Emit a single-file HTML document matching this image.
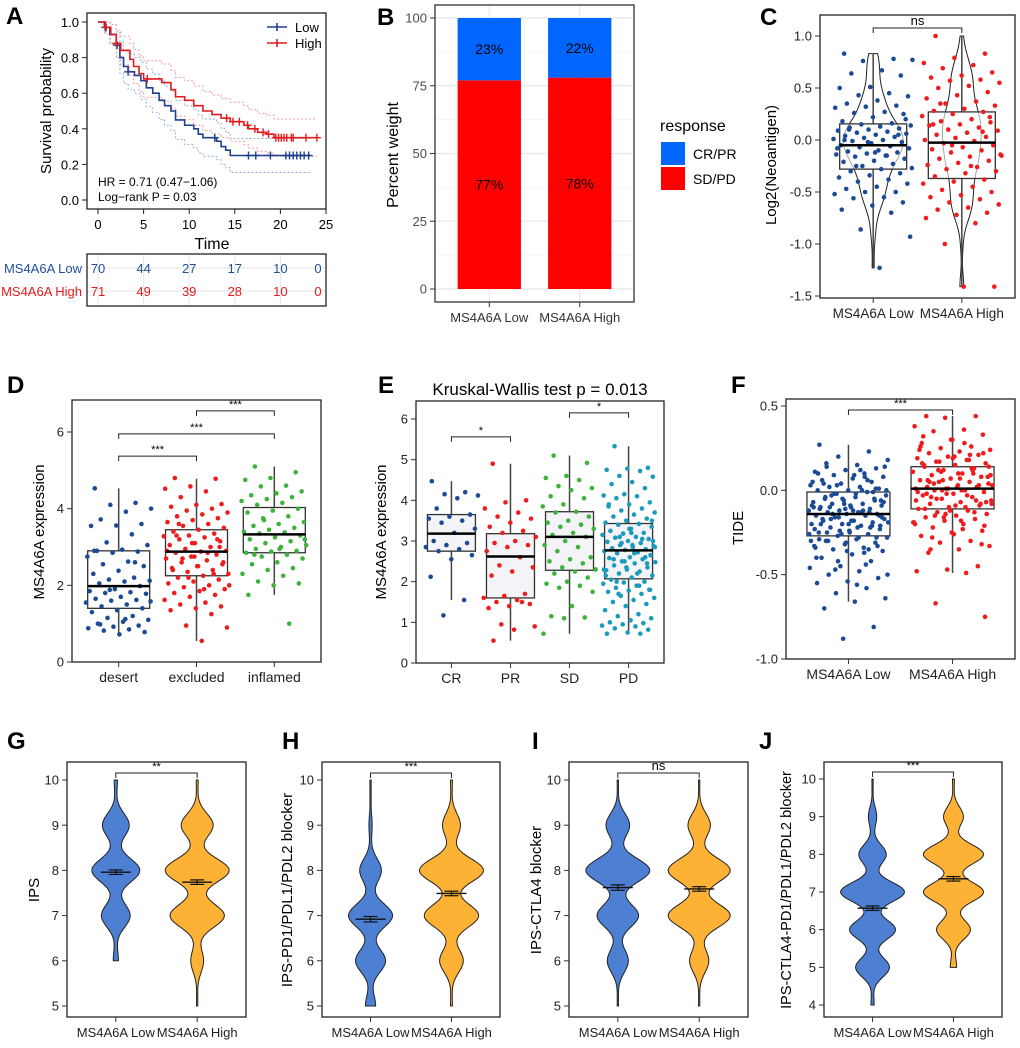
<!DOCTYPE html>
<html><head><meta charset="utf-8">
<style>
body{margin:0;background:#fff}
svg{display:block;font-family:"Liberation Sans",Arial,sans-serif}
</style></head>
<body>
<svg id="fig" width="1020" height="1048" viewBox="0 0 1020 1048"></svg>
<script>
// ---------------- DATA ----------------
const kmLowT = [0.7,1.3,2.0,2.4,2.8,3.3,4.0,4.7,5.3,6.0,6.7,7.3,8.0,8.5,9.5,10.5,11.0,11.5,13.0,13.5,14.0,14.5];
const kmLowS = [0.97,0.93,0.87,0.80,0.75,0.72,0.70,0.67,0.63,0.60,0.56,0.53,0.50,0.45,0.42,0.40,0.37,0.35,0.33,0.30,0.28,0.25];
const kmLowEnd = 23.3;
const kmHighT = [0.8,1.4,2.0,2.5,3.5,3.9,4.5,5.0,7.0,8.0,8.5,9.5,10.5,11.5,12.5,13.5,14.5,16.0,16.5,17.5,18.5,19.3];
const kmHighS = [0.97,0.93,0.88,0.84,0.79,0.75,0.71,0.68,0.66,0.62,0.58,0.56,0.53,0.50,0.48,0.46,0.44,0.42,0.40,0.38,0.37,0.35];
const kmHighEnd = 24;
const censLow = [0.8,2.1,3.3,12.8,16.5,17.3,18.9,20.6,21.0,21.4,21.8,22.2,22.6,23.1];
const censHigh = [0.9,2.0,5.4,14.1,14.8,15.5,16.4,17.2,18.1,18.7,19.5,19.8,20.1,20.4,20.7,21.2,21.4,22.8,24.0];
const riskTimes = [0,5,10,15,20,25];
const riskLow = [70,44,27,17,10,0];
const riskHigh = [71,49,39,28,10,0];
const aTicksX = [0,5,10,15,20,25];
const aTicksY = [0,0.2,0.4,0.6,0.8,1.0];
const aTickLabY = ['0.0','0.2','0.4','0.6','0.8','1.0'];

const bCats = ['MS4A6A Low','MS4A6A High'];
const bCRPR = [23,22];
const bSDPD = [77,78];
const bTicks = [0,25,50,75,100];

const cCats = ['MS4A6A Low','MS4A6A High'];
const cLow = [0.83,0.78,0.76,0.77,0.67,0.64,0.62,0.51,0.5,0.45,0.43,0.42,0.38,0.35,0.33,0.32,0.31,0.27,0.26,0.25,0.22,0.18,0.16,0.15,0.14,0.13,0.12,0.11,0.1,0.09,0.08,0.07,0.06,0.05,0.04,0.03,0.02,0.01,0,-0.01,-0.02,-0.03,-0.05,-0.06,-0.07,-0.08,-0.1,-0.11,-0.12,-0.13,-0.14,-0.15,-0.16,-0.18,-0.2,-0.21,-0.23,-0.25,-0.27,-0.28,-0.3,-0.32,-0.34,-0.36,-0.38,-0.4,-0.42,-0.45,-0.47,-0.5,-0.5,-0.52,-0.55,-0.56,-0.6,-0.63,-0.67,-0.7,-0.86,-0.93,-1.23,0.1,0.05,-0.02,-0.08,-0.15,-0.25,0.2,-0.12,0.0];
const cHigh = [1.0,0.83,0.79,0.74,0.72,0.69,0.65,0.62,0.6,0.58,0.57,0.55,0.52,0.5,0.46,0.43,0.4,0.37,0.35,0.33,0.3,0.28,0.27,0.25,0.23,0.2,0.18,0.17,0.15,0.14,0.12,0.1,0.09,0.07,0.05,0.03,0.02,0,-0.01,-0.03,-0.05,-0.07,-0.09,-0.1,-0.12,-0.14,-0.16,-0.18,-0.2,-0.22,-0.24,-0.26,-0.28,-0.3,-0.32,-0.35,-0.38,-0.4,-0.42,-0.45,-0.48,-0.5,-0.53,-0.55,-0.57,-0.6,-0.62,-0.65,-0.67,-0.7,-0.72,-0.75,-0.8,-1.0,-1.41,-1.41,0.15,0.08,-0.05,-0.15,-0.25,0.35,0.22];
const cStatLow = [-1.23,-0.28,-0.05,0.155,0.83];
const cStatHigh = [-1.41,-0.37,-0.025,0.27,1.0];
const cTicks = [-1.5,-1.0,-0.5,0.0,0.5,1.0];
const cTickLab = ['-1.5','-1.0','-0.5','0.0','0.5','1.0'];

const dCats = ['desert','excluded','inflamed'];
const dDesert = [4.53,4.15,4.1,4.0,3.92,3.72,3.6,3.56,3.55,3.33,3.12,3.05,2.93,2.9,2.88,2.85,2.75,2.62,2.55,2.5,2.38,2.3,2.2,2.15,2.12,2.1,2.05,1.98,1.9,1.85,1.82,1.8,1.78,1.7,1.65,1.62,1.6,1.55,1.5,1.45,1.4,1.35,1.3,1.2,1.15,1.1,1.05,1.0,0.95,0.92,0.88,0.85,0.82,0.78,0.72,2.9,2.6,1.88,1.58,1.12,0.98];
const dExcluded = [4.8,4.78,4.58,4.52,4.45,4.3,4.12,4.1,4.05,4.0,3.95,3.9,3.85,3.8,3.75,3.7,3.65,3.6,3.55,3.5,3.45,3.4,3.35,3.3,3.28,3.25,3.2,3.15,3.1,3.05,3.0,2.95,2.9,2.88,2.85,2.8,2.75,2.7,2.65,2.6,2.55,2.5,2.45,2.4,2.35,2.3,2.25,2.2,2.15,2.1,2.05,2.0,1.95,1.9,1.85,1.8,1.75,1.7,1.62,1.55,1.5,1.45,1.4,1.35,1.25,0.95,0.9,0.55,3.3,3.2,3.1,2.9,2.85,2.7,2.6,2.5,2.4,2.3,2.2,2.0,1.9,3.6,3.0,2.75];
const dInflamed = [5.1,4.95,4.8,4.75,4.6,4.58,4.45,4.4,4.35,4.3,4.25,4.2,4.15,4.1,4.0,3.95,3.9,3.8,3.75,3.65,3.6,3.55,3.5,3.45,3.4,3.38,3.35,3.3,3.25,3.2,3.15,3.1,3.05,3.0,2.95,2.9,2.88,2.85,2.8,2.75,2.7,2.6,2.55,2.45,2.4,2.3,2.25,2.1,2.05,2.0,1.75,1.0,3.7,3.2,2.95,2.8];
const dStats = [[0.72,1.4,1.98,2.9,4.53],[0.55,2.25,2.88,3.45,4.78],[1.75,2.85,3.33,4.03,5.1]];
const dTicks = [0,2,4,6];

const eCats = ['CR','PR','SD','PD'];
const eCR = [4.47,4.2,4.15,4.12,4.05,3.8,3.65,3.6,3.55,3.5,3.45,3.3,3.2,3.0,2.95,2.9,2.85,2.8,2.75,2.65,2.55,2.12,1.55,1.17];
const ePR = [4.9,4.0,3.95,3.8,3.7,3.6,3.55,3.45,3.35,3.25,3.2,3.1,3.0,2.95,2.9,2.85,2.75,2.6,2.4,2.35,2.25,2.15,1.7,1.65,1.6,1.55,1.5,1.45,1.4,1.35,1.5,0.95,0.9,0.82,0.55];
const eSD = [5.1,4.92,4.6,4.55,4.5,4.35,4.3,4.25,4.1,4.05,3.9,3.85,3.72,3.7,3.6,3.5,3.45,3.4,3.35,3.3,3.2,3.15,3.1,3.0,2.9,2.85,2.75,2.6,2.55,2.5,2.45,2.35,2.3,2.25,2.2,2.1,2.0,1.95,1.9,1.85,1.75,1.4,1.15,1.12,1.1,0.72];
const ePD = [5.33,4.8,4.78,4.75,4.72,4.6,4.58,4.45,4.4,4.3,4.15,4.12,4.1,4.05,3.95,3.9,3.85,3.8,3.75,3.7,3.65,3.6,3.55,3.5,3.45,3.42,3.4,3.35,3.3,3.25,3.2,3.18,3.15,3.1,3.08,3.05,3.0,2.98,2.95,2.9,2.88,2.85,2.82,2.8,2.78,2.75,2.72,2.7,2.65,2.6,2.58,2.55,2.5,2.48,2.45,2.4,2.35,2.3,2.28,2.25,2.2,2.15,2.1,2.05,2.0,1.98,1.95,1.9,1.85,1.8,1.78,1.75,1.7,1.65,1.6,1.55,1.5,1.45,1.4,1.3,1.2,1.15,1.1,1.05,1.0,0.98,0.95,0.92,0.9,0.85,0.82,0.75,0.72,0.72,3.1,3.0,2.9,2.8,2.6,2.5,2.3,2.2,2.0,1.8,3.3,3.9,3.05,2.95,2.85,2.7,2.55,2.45,2.35,2.15,1.9,1.7,3.5,3.2];
const eStats = [[1.55,2.75,3.18,3.65,4.47],[0.55,1.6,2.62,3.18,4.9],[0.72,2.28,3.1,3.72,5.1],[0.72,2.07,2.77,3.43,5.33]];
const eTicks = [0,1,2,3,4,5,6];

const fCats = ['MS4A6A Low','MS4A6A High'];
const fLow = [0.27,0.23,0.2,0.18,0.15,0.14,0.13,0.12,0.11,0.1,0.09,0.08,0.07,0.06,0.05,0.04,0.03,0.02,0.02,0.01,0,0,-0.01,-0.02,-0.03,-0.04,-0.05,-0.05,-0.06,-0.07,-0.08,-0.08,-0.09,-0.1,-0.1,-0.11,-0.12,-0.12,-0.13,-0.13,-0.14,-0.14,-0.15,-0.15,-0.16,-0.17,-0.18,-0.18,-0.19,-0.2,-0.2,-0.21,-0.22,-0.23,-0.24,-0.25,-0.26,-0.27,-0.28,-0.29,-0.3,-0.31,-0.32,-0.33,-0.34,-0.35,-0.36,-0.38,-0.4,-0.42,-0.45,-0.46,-0.48,-0.5,-0.52,-0.54,-0.55,-0.58,-0.61,-0.64,-0.66,-0.7,-0.81,-0.88,0.05,0.0,-0.03,-0.06,-0.09,-0.11,-0.13,-0.16,-0.19,-0.22,-0.25,-0.28,-0.31,-0.34,0.08,-0.02,-0.07,-0.12,-0.17,-0.21,-0.26,-0.3,0.12,-0.1,-0.15,-0.2,0.1,0.06,0.03,0.0,-0.02,-0.04,-0.06,-0.08,-0.1,-0.12,-0.14,-0.16,-0.18,-0.2,-0.22,-0.24,-0.26,-0.28,-0.3,-0.33,-0.36,-0.4,-0.44,-0.47,0.14,0.09,0.04,-0.01,-0.05,-0.09,-0.13,-0.17,-0.21,-0.25,-0.29,-0.35,-0.42,-0.5,-0.56,0.16,0.01,-0.11,-0.23,-0.37];
const fHigh = [0.44,0.44,0.43,0.38,0.36,0.35,0.33,0.3,0.28,0.26,0.25,0.24,0.23,0.22,0.21,0.2,0.19,0.18,0.17,0.16,0.15,0.14,0.13,0.12,0.11,0.1,0.09,0.08,0.07,0.06,0.05,0.05,0.04,0.03,0.02,0.02,0.01,0.01,0,0,-0.01,-0.02,-0.03,-0.04,-0.05,-0.06,-0.07,-0.08,-0.09,-0.1,-0.11,-0.12,-0.13,-0.14,-0.15,-0.16,-0.17,-0.18,-0.19,-0.2,-0.22,-0.24,-0.25,-0.27,-0.3,-0.31,-0.33,-0.35,-0.37,-0.45,-0.47,-0.48,-0.49,-0.67,-0.75,0.2,0.15,0.1,0.06,0.03,0.0,-0.04,-0.08,-0.12,0.24,0.18,0.12,0.08,0.02,-0.02,-0.06,-0.14,-0.2,0.28,0.04,0.22,0.19,0.16,0.13,0.11,0.09,0.07,0.05,0.03,0.01,-0.01,-0.03,-0.05,-0.07,-0.09,-0.11,-0.13,-0.16,-0.19,-0.23,-0.28,-0.32,0.3,0.26,0.21,0.17,0.14,0.1,0.06,0.02,-0.02,-0.06,-0.1,-0.15,-0.21,-0.26,0.32,0.12,0.0,-0.08,-0.18,-0.35];
const fStats = [[-0.66,-0.27,-0.14,-0.01,0.27],[-0.49,-0.11,0.01,0.14,0.44]];
const fTicks = [-1.0,-0.5,0.0,0.5];
const fTickLab = ['-1.0','-0.5','0.0','0.5'];

const ipsLevels = [4,5,6,7,8,9,10];
const gLow  = [0,0,0.08,0.45,0.75,0.42,0.05];
const gHigh = [0,0.02,0.2,0.85,1.0,0.5,0.03];
const hLow  = [0,0.16,0.47,0.69,0.34,0.05,0.02];
const hHigh = [0,0.03,0.37,0.85,1.0,0.28,0.03];
const iLow  = [0,0.02,0.33,0.65,1.0,0.37,0.02];
const iHigh = [0,0.02,0.3,0.97,0.97,0.35,0.02];
const jLow  = [0.05,0.53,0.72,1.0,0.43,0.13,0.02];
const jHigh = [0,0.1,0.53,0.94,0.94,0.31,0.03];
const vioMeans = {g:[7.96,7.74], h:[6.92,7.49], i:[7.62,7.59], j:[6.57,7.35]};
const vioSE = {g:[0.05,0.05], h:[0.06,0.05], i:[0.06,0.05], j:[0.06,0.06]};
const vioCats = ['MS4A6A Low','MS4A6A High'];

// ---------------- DRAWING ----------------
const NS = 'http://www.w3.org/2000/svg';
const svg = document.getElementById('fig');
function mk(tag, attrs, name, parent) {
  const e = document.createElementNS(NS, tag);
  for (const k in attrs) e.setAttribute(k, attrs[k]);
  
  
  (parent || svg).appendChild(e);
  return e;
}
function tx(x, y, s, size, name, opt) {
  opt = opt || {};
  const a = {x: x, y: y, 'font-size': size, 'text-anchor': opt.anchor || 'middle', fill: opt.fill || '#000'};
  if (opt.weight) a['font-weight'] = opt.weight;
  if (opt.rot) a.transform = 'rotate(-90 ' + x + ' ' + y + ')';
  const e = mk('text', a, name, opt.parent);
  e.textContent = s;
  return e;
}
function ln(x1, y1, x2, y2, stroke, w, name, extra) {
  const a = {x1: x1, y1: y1, x2: x2, y2: y2, stroke: stroke, 'stroke-width': w};
  if (extra) Object.assign(a, extra);
  return mk('line', a, name);
}
function lin(d0, d1, r0, r1) { return v => r0 + (v - d0) * (r1 - r0) / (d1 - d0); }
function jit(i, g, w) { const f = ((i + g * 13) * 0.6180339887 + 0.137) % 1; return (f - 0.5) * w; }
function catX(x0, x1, n) { const step = (x1 - x0) / (n + 0.2); return i => x0 + step * (0.6 + i); }
function letter(x, y, s) { tx(x, y, s, 24, 'panel-label-' + s.toLowerCase(), {anchor: 'start', weight: 'bold'}); }
function frame(x0, y0, x1, y1, name, stroke) {
  mk('rect', {x: x0, y: y0, width: x1 - x0, height: y1 - y0, fill: 'none', stroke: stroke || '#222', 'stroke-width': 1.3}, name);
}
function yAxis(ys, ticks, labels, xl, size, pname, fill) {
  ticks.forEach((t, i) => {
    ln(xl - 5, ys(t), xl, ys(t), '#333', 1, pname + '-y-tick');
    tx(xl - 8, ys(t) + size * 0.35, labels ? labels[i] : String(t), size, pname + '-y-tick-label', {anchor: 'end', fill: fill || '#222'});
  });
}
function xAxis(xc, cats, yb, size, pname, fill) {
  cats.forEach((c, i) => {
    ln(xc(i), yb, xc(i), yb + 5, '#333', 1, pname + '-x-tick');
    tx(xc(i), yb + 20, c, size, pname + '-x-tick-label', {fill: fill || '#222'});
  });
}
function bracket(xa, xb, y, label, name) {
  mk('path', {d: 'M' + xa + ' ' + (y + 5) + 'V' + y + 'H' + xb + 'V' + (y + 5), fill: 'none', stroke: '#222', 'stroke-width': 1}, name);
  tx((xa + xb) / 2, y - 3, label, label === 'ns' ? 13 : 11, name + '-label');
}
function boxPlot(xc, w, st, ys, pname, fill) {
  ln(xc, ys(st[0]), xc, ys(st[1]), '#444', 1.5, pname + '-whisker-low');
  ln(xc, ys(st[3]), xc, ys(st[4]), '#444', 1.5, pname + '-whisker-high');
  mk('rect', {x: xc - w / 2, y: ys(st[3]), width: w, height: ys(st[1]) - ys(st[3]), fill: fill || 'none', stroke: '#333', 'stroke-width': 1.3}, pname + '-box');
}
function median(xc, w, st, ys, pname) {
  ln(xc - w / 2, ys(st[2]), xc + w / 2, ys(st[2]), '#000', 2.5, pname + '-median');
}
function dots(vals, xc, jw, ys, color, g, pname) {
  vals.forEach((v, i) => {
    mk('circle', {cx: xc + jit(i, g, jw), cy: ys(v), r: 2.3, fill: color}, pname + '-point');
  });
}

// ===== Panel A =====
(function () {
  const xs = lin(0, 25, 98, 326), ys = lin(0, 1, 200, 22);
  letter(6, 24, 'A');
  frame(87, 13, 326, 209, 'km-plot-frame');
  aTicksY.forEach((t, i) => {
    ln(82, ys(t), 87, ys(t), '#222', 1, 'km-y-tick');
    tx(79, ys(t) + 5, aTickLabY[i], 13, 'km-y-tick-label', {anchor: 'end'});
  });
  aTicksX.forEach(t => {
    ln(xs(t), 209, xs(t), 214, '#222', 1, 'km-x-tick');
    tx(xs(t), 229, String(t), 13, 'km-x-tick-label');
  });
  tx(212, 249, 'Time', 16, 'km-x-axis-title');
  tx(51, 111, 'Survival probability', 15, 'km-y-axis-title', {rot: true});
  function stepPath(T, S, end, f) {
    let d = 'M' + xs(0) + ' ' + ys(f(1));
    T.forEach((t, i) => { d += 'H' + xs(t) + 'V' + ys(f(S[i])); });
    return d + 'H' + xs(end);
  }
  const k = 0.22;
  const hi = s => Math.min(1, s + k * Math.sqrt(s * (1 - s)));
  const lo = s => Math.max(0, s - k * Math.sqrt(s * (1 - s)));
  const id = s => s;
  [[kmLowT, kmLowS, kmLowEnd, '#8fb2dc', 'low'], [kmHighT, kmHighS, kmHighEnd, '#f59a9a', 'high']].forEach(g => {
    mk('path', {d: stepPath(g[0], g[1], g[2], hi), fill: 'none', stroke: g[3], 'stroke-width': 1, 'stroke-dasharray': '2,2'}, 'km-ci-upper-' + g[4]);
    mk('path', {d: stepPath(g[0], g[1], g[2], lo), fill: 'none', stroke: g[3], 'stroke-width': 1, 'stroke-dasharray': '2,2'}, 'km-ci-lower-' + g[4]);
  });
  [[kmLowT, kmLowS, kmLowEnd, '#1f3f8f', censLow, 'low'], [kmHighT, kmHighS, kmHighEnd, '#e41a1c', censHigh, 'high']].forEach(g => {
    mk('path', {d: stepPath(g[0], g[1], g[2], id), fill: 'none', stroke: g[3], 'stroke-width': 1.6}, 'km-curve-' + g[5]);
    g[4].forEach(t => {
      let s = 1;
      g[0].forEach((tt, i) => { if (tt <= t) s = g[1][i]; });
      ln(xs(t) - 4, ys(s), xs(t) + 4, ys(s), g[3], 1.4, 'km-censor-' + g[5]);
      ln(xs(t), ys(s) - 4, xs(t), ys(s) + 4, g[3], 1.4, 'km-censor-' + g[5]);
    });
  });
  ln(267, 27, 287, 27, '#1f3f8f', 1.6, 'km-legend-line-low');
  ln(277, 23, 277, 31, '#1f3f8f', 1.6, 'km-legend-mark-low');
  tx(295, 32, 'Low', 13, 'km-legend-label-low', {anchor: 'start'});
  ln(267, 43, 287, 43, '#e41a1c', 1.6, 'km-legend-line-high');
  ln(277, 39, 277, 47, '#e41a1c', 1.6, 'km-legend-mark-high');
  tx(295, 48, 'High', 13, 'km-legend-label-high', {anchor: 'start'});
  tx(98, 186, 'HR = 0.71 (0.47\u22121.06)', 12, 'km-hr-text', {anchor: 'start'});
  tx(98, 201, 'Log\u2212rank P = 0.03', 12, 'km-logrank-text', {anchor: 'start'});
  riskTimes.forEach(t => { ln(xs(t), 254, xs(t), 306, '#e6e6e6', 1, 'risk-grid-v'); });
  [268, 291].forEach(y => { ln(87, y, 326, y, '#e6e6e6', 1, 'risk-grid-h'); });
  frame(87, 254, 326, 306, 'risk-table-frame');
  tx(82, 273, 'MS4A6A Low', 13, 'risk-row-label-low', {anchor: 'end', fill: '#1f4e9a'});
  tx(82, 296, 'MS4A6A High', 13, 'risk-row-label-high', {anchor: 'end', fill: '#e8191b'});
  riskTimes.forEach((t, i) => {
    const x = Math.min(xs(t), 318);
    tx(x, 273, String(riskLow[i]), 13, 'risk-count-low', {fill: '#1f4e9a'});
    tx(x, 296, String(riskHigh[i]), 13, 'risk-count-high', {fill: '#e8191b'});
  });
})();

// ===== Panel B =====
(function () {
  const ys = lin(0, 100, 289, 18);
  const x0 = 435, x1 = 634;
  const xc = catX(x0, x1, bCats.length);
  const bw = (x1 - x0) / 2.2 * 0.7;
  letter(377, 25, 'B');
  mk('rect', {x: x0, y: 5, width: x1 - x0, height: 297, fill: '#fff'}, 'bar-plot-background');
  [12.5, 37.5, 62.5, 87.5].forEach(v => ln(x0, ys(v), x1, ys(v), '#f2f2f2', 0.8, 'bar-minor-grid'));
  bTicks.forEach(v => ln(x0, ys(v), x1, ys(v), '#e8e8e8', 1.2, 'bar-major-grid'));
  bCats.forEach((c, i) => ln(xc(i), 5, xc(i), 302, '#e8e8e8', 1.2, 'bar-v-grid'));
  bCats.forEach((c, i) => {
    mk('rect', {x: xc(i) - bw / 2, y: ys(bSDPD[i]), width: bw, height: ys(0) - ys(bSDPD[i]), fill: '#ff0000'}, 'bar-sdpd-' + i);
    mk('rect', {x: xc(i) - bw / 2, y: ys(100), width: bw, height: ys(bSDPD[i]) - ys(100), fill: '#0066ff'}, 'bar-crpr-' + i);
    tx(xc(i), ys(bSDPD[i] + bCRPR[i] / 2) + 5, bCRPR[i] + '%', 14, 'bar-label-crpr');
    tx(xc(i), ys(bSDPD[i] / 2) + 5, bSDPD[i] + '%', 14, 'bar-label-sdpd');
  });
  frame(x0, 5, x1, 302, 'bar-plot-frame', '#333');
  yAxis(ys, bTicks, null, x0, 13, 'bar', '#4d4d4d');
  xAxis(xc, bCats, 302, 13, 'bar', '#333');
  tx(398, 155, 'Percent weight', 16, 'bar-y-axis-title', {rot: true});
  tx(660, 131, 'response', 16, 'legend-title', {anchor: 'start'});
  mk('rect', {x: 661, y: 142, width: 24, height: 23, fill: '#0066ff'}, 'legend-key-crpr');
  mk('rect', {x: 661, y: 167, width: 24, height: 23, fill: '#ff0000'}, 'legend-key-sdpd');
  tx(693, 159, 'CR/PR', 14, 'legend-label-crpr', {anchor: 'start'});
  tx(693, 184, 'SD/PD', 14, 'legend-label-sdpd', {anchor: 'start'});
})();

// ===== Panel C =====
(function () {
  const ys = lin(-1.5, 1, 296, 36);
  const x0 = 820, x1 = 1015;
  const xc = catX(x0, x1, 2);
  letter(760, 25, 'C');
  const groups = [[cLow, cStatLow, '#1c4b96'], [cHigh, cStatHigh, '#ee1c1c']];
  const bwk = 0.12;
  const kde = (arr, v) => arr.reduce((s, a) => s + Math.exp(-((v - a) * (v - a)) / (2 * bwk * bwk)), 0);
  let mx = 0;
  groups.forEach(g => { const lo = Math.min(...g[0]), hi = Math.max(...g[0]); for (let k = 0; k <= 80; k++) { mx = Math.max(mx, kde(g[0], lo + (hi - lo) * k / 80)); } });
  groups.forEach((g, gi) => {
    const lo = Math.min(...g[0]), hi = Math.max(...g[0]);
    let r = [], l = [];
    for (let k = 0; k <= 80; k++) {
      const v = lo + (hi - lo) * k / 80, w = 30 * kde(g[0], v) / mx;
      r.push((xc(gi) + w) + ' ' + ys(v)); l.unshift((xc(gi) - w) + ' ' + ys(v));
    }
    mk('path', {d: 'M' + r.join('L') + 'L' + l.join('L') + 'Z', fill: '#fff', stroke: '#222', 'stroke-width': 1}, 'neoantigen-violin-' + gi);
  });
  groups.forEach((g, gi) => boxPlot(xc(gi), 67, g[1], ys, 'neoantigen', 'rgba(255,255,255,0.6)'));
  groups.forEach((g, gi) => dots(g[0], xc(gi), 80, ys, g[2], gi, 'neoantigen'));
  groups.forEach((g, gi) => median(xc(gi), 67, g[1], ys, 'neoantigen'));
  frame(x0, 15, x1, 298, 'neoantigen-frame');
  yAxis(ys, cTicks, cTickLab, x0, 13, 'neoantigen');
  xAxis(xc, cCats, 298, 13.5, 'neoantigen');
  tx(776, 165, 'Log2(Neoantigen)', 15, 'neoantigen-y-axis-title', {rot: true});
  bracket(xc(0), xc(1), 28, 'ns', 'neoantigen-bracket');
})();

// ===== Panel D =====
(function () {
  const ys = lin(0, 6, 662, 432);
  const x0 = 72, x1 = 321;
  const xc = catX(x0, x1, 3);
  const bw = 62;
  letter(7, 393, 'D');
  const groups = [[dDesert, '#1c4b96'], [dExcluded, '#ee1c1c'], [dInflamed, '#3cb43c']];
  groups.forEach((g, gi) => boxPlot(xc(gi), bw, dStats[gi], ys, 'immune-phenotype', '#fff'));
  groups.forEach((g, gi) => dots(g[0], xc(gi), 66, ys, g[1], gi, 'immune-phenotype'));
  groups.forEach((g, gi) => median(xc(gi), bw, dStats[gi], ys, 'immune-phenotype'));
  frame(x0, 400, x1, 662, 'immune-phenotype-frame');
  yAxis(ys, dTicks, null, x0, 13, 'immune-phenotype');
  xAxis(xc, dCats, 662, 14, 'immune-phenotype');
  tx(44, 532, 'MS4A6A expression', 15, 'immune-phenotype-y-axis-title', {rot: true});
  bracket(xc(0), xc(1), ys(5.37), '***', 'bracket-desert-excluded');
  bracket(xc(0), xc(2), ys(5.95), '***', 'bracket-desert-inflamed');
  bracket(xc(1), xc(2), ys(6.55), '***', 'bracket-excluded-inflamed');
})();

// ===== Panel E =====
(function () {
  const ys = lin(0, 6, 663, 419);
  const x0 = 416, x1 = 664;
  const xc = catX(x0, x1, 4);
  const bw = 48;
  letter(378, 393, 'E');
  tx(540, 395, 'Kruskal-Wallis test p = 0.013', 17, 'response-title');
  const groups = [[eCR, '#1c4b96'], [ePR, '#ee1c1c'], [eSD, '#3cb43c'], [ePD, '#1a9bbc']];
  groups.forEach((g, gi) => boxPlot(xc(gi), bw, eStats[gi], ys, 'response-expression', '#f4f4f8'));
  groups.forEach((g, gi) => dots(g[0], xc(gi), 54, ys, g[1], gi, 'response-expression'));
  groups.forEach((g, gi) => median(xc(gi), bw, eStats[gi], ys, 'response-expression'));
  frame(x0, 401, x1, 663, 'response-expression-frame');
  yAxis(ys, eTicks, null, x0, 13, 'response-expression');
  xAxis(xc, eCats, 663, 14, 'response-expression');
  tx(386, 532, 'MS4A6A expression', 15, 'response-expression-y-axis-title', {rot: true});
  bracket(xc(0), xc(1), ys(5.56), '*', 'bracket-cr-pr');
  bracket(xc(2), xc(3), ys(6.15), '*', 'bracket-sd-pd');
})();

// ===== Panel F =====
(function () {
  const ys = lin(-1, 0.5, 659, 406);
  const x0 = 786, x1 = 1015;
  const xc = catX(x0, x1, 2);
  const bw = 83;
  letter(731, 393, 'F');
  const groups = [[fLow, '#1c4b96'], [fHigh, '#ee1c1c']];
  groups.forEach((g, gi) => boxPlot(xc(gi), bw, fStats[gi], ys, 'tide', '#fff'));
  groups.forEach((g, gi) => dots(g[0], xc(gi), 80, ys, g[1], gi, 'tide'));
  groups.forEach((g, gi) => median(xc(gi), bw, fStats[gi], ys, 'tide'));
  frame(x0, 399, x1, 659, 'tide-frame');
  yAxis(ys, fTicks, fTickLab, x0, 13, 'tide');
  xAxis(xc, fCats, 659, 14, 'tide');
  tx(743, 528, 'TIDE', 15, 'tide-y-axis-title', {rot: true});
  bracket(xc(0), xc(1), 410, '***', 'tide-bracket');
})();

// ===== Panels G-J =====
function violinPanel(key, x0, x1, d0, d1, r0, r1, ticks, lows, highs, ylabel, ylx, sig) {
  const ys = lin(d0, d1, r0, r1);
  const xc = catX(x0, x1, 2);
  const sigma = 0.26;
  const dens = (c, v) => c.reduce((s, w, k) => s + w * Math.exp(-((v - ipsLevels[k]) ** 2) / (2 * sigma * sigma)), 0);
  const sets = [lows, highs];
  let mx = 0;
  sets.forEach(c => { for (let v = 4; v <= 10; v += 0.05) mx = Math.max(mx, dens(c, v)); });
  const colors = ['#4d7fd3', '#fdb236'];
  sets.forEach((c, gi) => {
    let first = c.findIndex(w => w > 0), last = c.length - 1;
    while (c[last] === 0) last--;
    const lo = ipsLevels[first], hi = ipsLevels[last];
    let r = [], l = [];
    for (let k = 0; k <= 120; k++) {
      const v = lo + (hi - lo) * k / 120, w = Math.max(0.6, 32 * dens(c, v) / mx);
      r.push((xc(gi) + w).toFixed(2) + ' ' + ys(v).toFixed(2)); l.unshift((xc(gi) - w).toFixed(2) + ' ' + ys(v).toFixed(2));
    }
    mk('path', {d: 'M' + r.join('L') + 'L' + l.join('L') + 'Z', fill: colors[gi], stroke: '#222', 'stroke-width': 1}, key + '-violin-' + gi);
    const m = vioMeans[key][gi], se = vioSE[key][gi];
    ln(xc(gi) - 15, ys(m), xc(gi) + 15, ys(m), '#111', 1.4, key + '-mean-line');
    ln(xc(gi), ys(m - se), xc(gi), ys(m + se), '#111', 1.2, key + '-se-bar');
    ln(xc(gi) - 7, ys(m - se), xc(gi) + 7, ys(m - se), '#111', 1.2, key + '-se-cap');
    ln(xc(gi) - 7, ys(m + se), xc(gi) + 7, ys(m + se), '#111', 1.2, key + '-se-cap');
  });
  frame(x0, 762, x1, 1017, key + '-frame');
  yAxis(ys, ticks, null, x0, 13, key);
  xAxis(xc, vioCats, 1017, 13, key);
  tx(ylx, 890, ylabel, ylabel.length > 26 ? 14.5 : 15, key + '-y-axis-title', {rot: true});
  bracket(xc(0), xc(1), ys(10) - 7, sig, key + '-bracket');
}
letter(7, 749, 'G');
letter(282, 749, 'H');
letter(532, 749, 'I');
letter(759, 749, 'J');
violinPanel('g', 67, 246, 5, 10, 1006, 780, [5,6,7,8,9,10], gLow, gHigh, 'IPS', 39, '**');
violinPanel('h', 322, 500, 5, 10, 1006, 780, [5,6,7,8,9,10], hLow, hHigh, 'IPS-PD1/PDL1/PDL2 blocker', 292, '***');
violinPanel('i', 569, 748, 5, 10, 1006, 780, [5,6,7,8,9,10], iLow, iHigh, 'IPS-CTLA4 blocker', 541, 'ns');
violinPanel('j', 824, 1002, 4, 10, 1005, 779, [4,5,6,7,8,9,10], jLow, jHigh, 'IPS-CTLA4-PD1/PDL1/PDL2 blocker', 791, '***');
</script>
</body></html>
